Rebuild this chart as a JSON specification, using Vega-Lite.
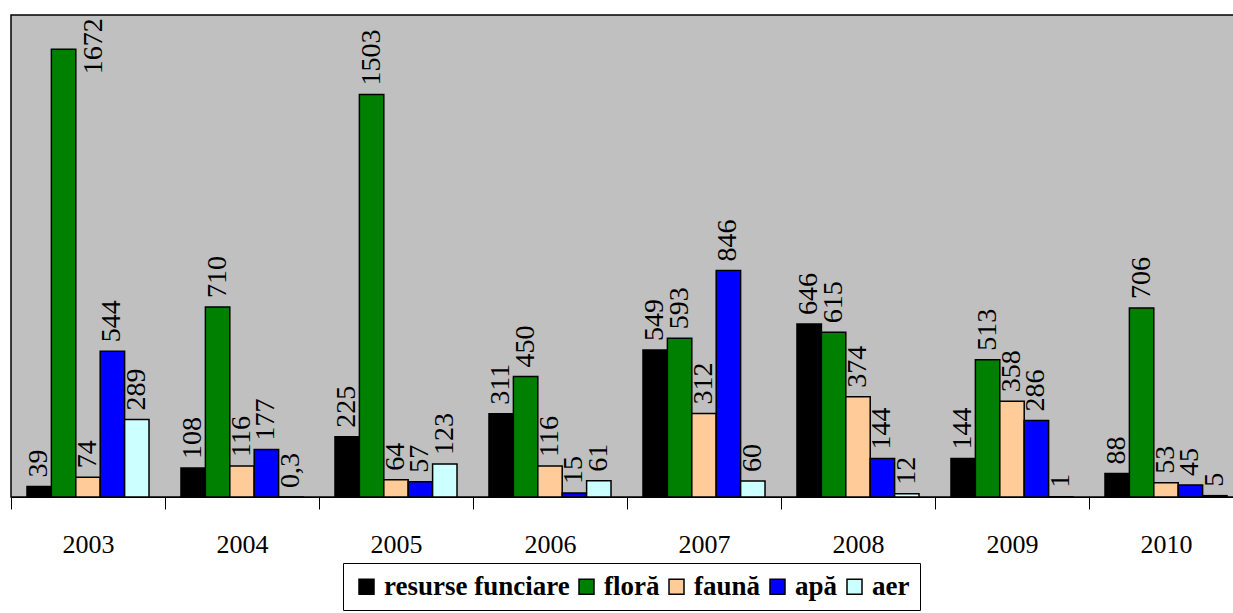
{
  "$schema": "https://vega.github.io/schema/vega-lite/v6.json",
  "width": 1232,
  "height": 482,
  "autosize": {"type": "none"},
  "padding": {"left": 11, "top": 15, "right": 0, "bottom": 116},
  "background": "white",
  "config": {
    "font": "Times New Roman",
    "view": {"fill": "#C0C0C0", "stroke": "#000000", "strokeWidth": 1.5},
    "locale": {"number": {"decimal": ",", "thousands": ".", "grouping": [3], "currency": ["", ""]}}
  },
  "data": {
    "values": [
      {"year": "2003", "series": "resurse funciare", "value": 39},
      {"year": "2003", "series": "floră", "value": 1672},
      {"year": "2003", "series": "faună", "value": 74},
      {"year": "2003", "series": "apă", "value": 544},
      {"year": "2003", "series": "aer", "value": 289},
      {"year": "2004", "series": "resurse funciare", "value": 108},
      {"year": "2004", "series": "floră", "value": 710},
      {"year": "2004", "series": "faună", "value": 116},
      {"year": "2004", "series": "apă", "value": 177},
      {"year": "2004", "series": "aer", "value": 0.3},
      {"year": "2005", "series": "resurse funciare", "value": 225},
      {"year": "2005", "series": "floră", "value": 1503},
      {"year": "2005", "series": "faună", "value": 64},
      {"year": "2005", "series": "apă", "value": 57},
      {"year": "2005", "series": "aer", "value": 123},
      {"year": "2006", "series": "resurse funciare", "value": 311},
      {"year": "2006", "series": "floră", "value": 450},
      {"year": "2006", "series": "faună", "value": 116},
      {"year": "2006", "series": "apă", "value": 15},
      {"year": "2006", "series": "aer", "value": 61},
      {"year": "2007", "series": "resurse funciare", "value": 549},
      {"year": "2007", "series": "floră", "value": 593},
      {"year": "2007", "series": "faună", "value": 312},
      {"year": "2007", "series": "apă", "value": 846},
      {"year": "2007", "series": "aer", "value": 60},
      {"year": "2008", "series": "resurse funciare", "value": 646},
      {"year": "2008", "series": "floră", "value": 615},
      {"year": "2008", "series": "faună", "value": 374},
      {"year": "2008", "series": "apă", "value": 144},
      {"year": "2008", "series": "aer", "value": 12},
      {"year": "2009", "series": "resurse funciare", "value": 144},
      {"year": "2009", "series": "floră", "value": 513},
      {"year": "2009", "series": "faună", "value": 358},
      {"year": "2009", "series": "apă", "value": 286},
      {"year": "2009", "series": "aer", "value": 1},
      {"year": "2010", "series": "resurse funciare", "value": 88},
      {"year": "2010", "series": "floră", "value": 706},
      {"year": "2010", "series": "faună", "value": 53},
      {"year": "2010", "series": "apă", "value": 45},
      {"year": "2010", "series": "aer", "value": 5}
    ]
  },
  "encoding": {
    "x": {
      "field": "year",
      "type": "nominal",
      "scale": {"paddingInner": 0, "paddingOuter": 0},
      "axis": {
        "title": null,
        "labelAngle": 0,
        "labelFont": "Times New Roman",
        "labelFontSize": 26,
        "labelColor": "#000000",
        "labelPadding": 22,
        "tickBand": "extent",
        "tickSize": 12,
        "tickColor": "#000000",
        "tickWidth": 1,
        "domainColor": "#000000",
        "domainWidth": 1,
        "grid": false
      }
    },
    "xOffset": {
      "field": "series",
      "type": "nominal",
      "sort": ["resurse funciare", "floră", "faună", "apă", "aer"],
      "scale": {"paddingInner": 0, "paddingOuter": 0.655}
    },
    "y": {
      "field": "value",
      "type": "quantitative",
      "stack": null,
      "scale": {"domain": [0, 1800], "nice": false},
      "axis": null
    }
  },
  "layer": [
    {
      "mark": {"type": "bar", "stroke": "#000000", "strokeWidth": 1.5},
      "encoding": {
        "color": {
          "field": "series",
          "type": "nominal",
          "sort": ["resurse funciare", "floră", "faună", "apă", "aer"],
          "scale": {
            "domain": ["resurse funciare", "floră", "faună", "apă", "aer"],
            "range": ["#000000", "#008000", "#FFCC99", "#0000FF", "#CCFFFF"]
          },
          "legend": {
            "orient": "none",
            "legendX": 332,
            "legendY": 548,
            "direction": "horizontal",
            "title": null,
            "symbolType": "square",
            "symbolSize": 225,
            "symbolStrokeColor": "#000000",
            "symbolStrokeWidth": 1.5,
            "labelFont": "Times New Roman",
            "labelFontWeight": "bold",
            "labelFontSize": 27,
            "labelColor": "#000000",
            "labelOffset": 4,
            "labelLimit": 400,
            "columnPadding": 3,
            "strokeColor": "#000000",
            "fillColor": "#FFFFFF",
            "padding": 10
          }
        }
      }
    },
    {
      "transform": [{"filter": "datum.value < 1600"}],
      "mark": {
        "type": "text",
        "angle": 270,
        "align": "left",
        "baseline": "middle",
        "dx": 9,
        "font": "Times New Roman",
        "fontSize": 28,
        "fill": "#000000"
      },
      "encoding": {
        "text": {"field": "value", "type": "quantitative", "format": "~g"}
      }
    },
    {
      "transform": [{"filter": "datum.value >= 1600"}],
      "mark": {
        "type": "text",
        "angle": 270,
        "align": "left",
        "baseline": "middle",
        "dx": -25,
        "dy": 30,
        "font": "Times New Roman",
        "fontSize": 28,
        "fill": "#000000"
      },
      "encoding": {
        "text": {"field": "value", "type": "quantitative", "format": "~g"}
      }
    }
  ]
}
